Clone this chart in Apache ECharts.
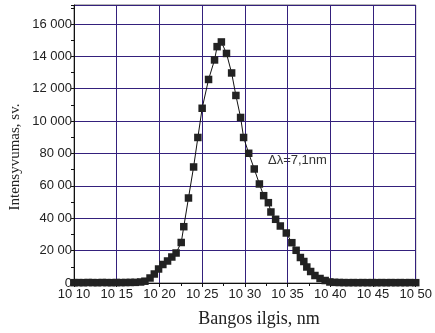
<!DOCTYPE html>
<html>
<head>
<meta charset="utf-8">
<script src="https://cdn.jsdelivr.net/npm/echarts@6/dist/echarts.min.js"></script>
<style>
  html, body { margin: 0; padding: 0; background: #fff; }
  #chart { width: 435px; height: 333px; }
</style>
</head>
<body>
<div id="chart"></div>
<script>
// Emission spectrum: wavelength (nm) and intensity (arb. units)
const wavelengths = [
  1010.0, 1010.55, 1011.1, 1011.65, 1012.2, 1012.75, 1013.3, 1013.85, 1014.4, 1014.95,
  1015.5, 1016.05, 1016.6, 1017.15, 1017.8, 1018.3, 1018.9, 1019.4, 1019.9, 1020.4,
  1020.95, 1021.45, 1021.95, 1022.55, 1022.85, 1023.4, 1024.0, 1024.5, 1025.0, 1025.75,
  1026.45, 1026.75, 1027.25, 1027.85, 1028.45, 1028.95, 1029.5, 1029.85, 1030.45, 1031.1,
  1031.7, 1032.2, 1032.75, 1033.05, 1033.6, 1034.15, 1034.85, 1035.5, 1036.0, 1036.5,
  1036.9, 1037.25, 1037.7, 1038.2, 1038.8, 1039.4, 1039.95, 1040.5, 1041.05, 1041.6,
  1042.15, 1042.7, 1043.25, 1043.8, 1044.35, 1044.9, 1045.45, 1046.0, 1046.55, 1047.1,
  1047.65, 1048.2, 1048.75, 1049.3, 1050.0
];
const intensities = [
  20, 25, 20, 30, 25, 20, 30, 25, 20, 30,
  25, 30, 35, 40, 62, 111, 309, 556, 865, 1143,
  1359, 1606, 1853, 2502, 3478, 5250, 7166, 8988, 10792, 12571,
  13776, 14598, 14888, 14178, 12973, 11583, 10224, 8988, 8012, 7042,
  6116, 5393, 4961, 4386, 3935, 3521, 3089, 2490, 2020, 1575,
  1328, 988, 710, 463, 278, 154, 62, 40, 30, 25,
  20, 25, 20, 25, 20, 25, 20, 25, 20, 25,
  20, 25, 20, 25, 20
];

// Tick values and their printed labels
const xTickValues = [1010, 1015, 1020, 1025, 1030, 1035, 1040, 1045, 1050];
const xTickLabels = ['10 10', '10 15', '10 20', '10 25', '10 30', '10 35', '10 40', '10 45', '10 50'];
const yTickValues = [0, 2000, 4000, 6000, 8000, 10000, 12000, 14000, 16000];
const yTickLabels = ['0', '20 00', '40 00', '60 00', '80 00', '10 000', '12 000', '14 000', '16 000'];

const xTitle = 'Bangos ilgis, nm';
const yTitle = 'Intensyvumas, sv.';
const note = '\u0394\u03bb=7,1nm';

const points = wavelengths.map((w, i) => [w, intensities[i]]);

const gridColor = '#34207c';
const sans = 'Liberation Sans, Arial, sans-serif';
const serif = 'Liberation Serif, Times New Roman, serif';

const chart = echarts.init(document.getElementById('chart'), null, { renderer: 'canvas' });
chart.setOption({
  animation: false,
  backgroundColor: '#fff',
  grid: { left: 74, right: 18, top: 5, bottom: 50, containLabel: false,
          show: true, borderColor: '#6a6a6a', borderWidth: 1 },
  xAxis: {
    type: 'value',
    min: 1010, max: 1050, interval: 5,
    axisLine: { show: true, onZero: false, lineStyle: { color: '#111', width: 1 } },
    axisTick: { show: true, inside: false, length: 4, lineStyle: { color: '#111' } },
    minorTick: { show: true, splitNumber: 2, length: 3, lineStyle: { color: '#111' } },
    splitLine: { show: true, lineStyle: { color: gridColor, width: 1 } },
    axisLabel: {
      margin: 5, color: '#222', fontFamily: sans, fontSize: 13,
      formatter: v => { const i = xTickValues.indexOf(Math.round(v)); return i >= 0 ? xTickLabels[i] : ''; }
    }
  },
  yAxis: {
    type: 'value',
    min: 0, max: 17170, interval: 2000,
    axisLine: { show: true, onZero: false, lineStyle: { color: '#111', width: 1 } },
    axisTick: { show: true, inside: false, length: 3, lineStyle: { color: '#111' } },
    minorTick: { show: true, splitNumber: 2, length: 3, lineStyle: { color: '#111' } },
    splitLine: { show: true, lineStyle: { color: gridColor, width: 1 } },
    axisLabel: {
      margin: 2, color: '#222', fontFamily: sans, fontSize: 13, showMaxLabel: false,
      formatter: v => { const i = yTickValues.indexOf(Math.round(v)); return i >= 0 ? yTickLabels[i] : ''; }
    }
  },
  series: [{
    type: 'line',
    data: points,
    clip: false,
    symbol: 'rect',
    symbolSize: 7.5,
    showAllSymbol: true,
    itemStyle: { color: '#222', borderWidth: 0 },
    lineStyle: { color: '#111', width: 1 },
    emphasis: { disabled: true }
  }],
  graphic: [
    {
      type: 'text', x: 259, y: 319,
      style: { text: xTitle, font: '18px ' + serif, fill: '#222', align: 'center', verticalAlign: 'middle' }
    },
    {
      type: 'text', x: 15, y: 157, rotation: Math.PI / 2,
      style: { text: yTitle, font: '15px ' + serif, fill: '#222', align: 'center', verticalAlign: 'middle' }
    },
    {
      type: 'text', x: 268, y: 160,
      style: { text: note, font: '13px ' + sans, fill: '#333', align: 'left', verticalAlign: 'middle' }
    }
  ]
});
</script>
</body>
</html>
